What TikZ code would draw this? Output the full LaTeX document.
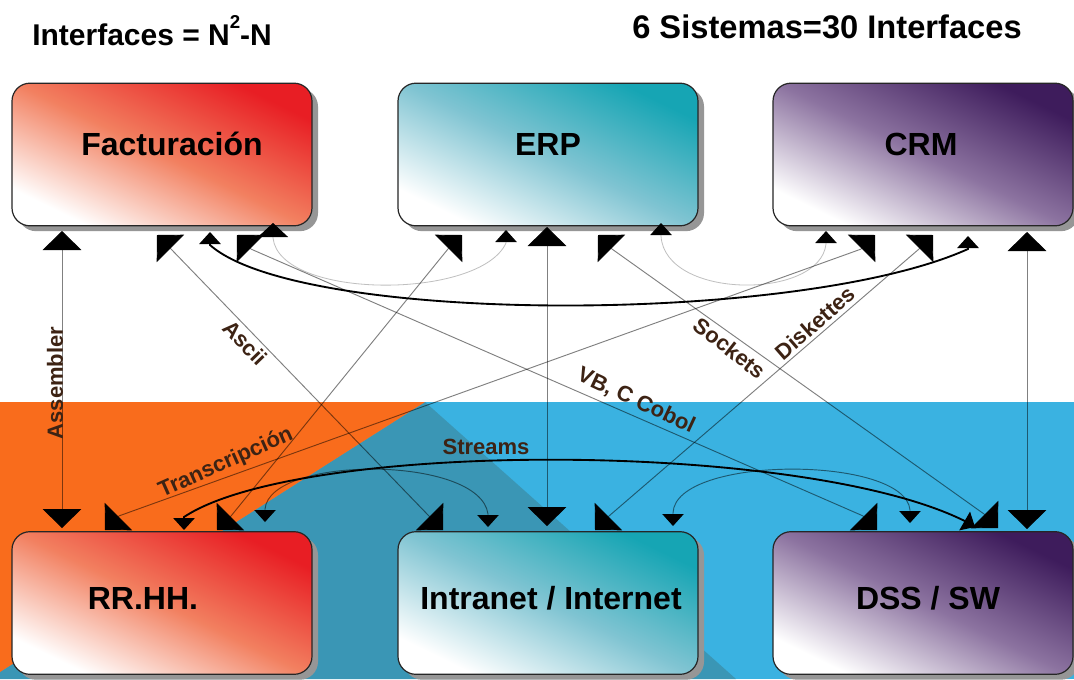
\documentclass[tikz,border=0pt]{standalone}
\usepackage{fontspec}
\setmainfont{Liberation Sans}
\usetikzlibrary{arrows.meta,shadows,calc}

\definecolor{bgorange}{RGB}{249,108,28}
\definecolor{bgblue}{RGB}{58,178,225}
\definecolor{bgdeep}{RGB}{58,150,181}
\definecolor{redtop}{RGB}{232,30,36}
\definecolor{redmid}{RGB}{242,128,96}
\definecolor{tealtop}{RGB}{22,165,180}
\definecolor{tealmid}{RGB}{128,196,210}
\definecolor{plumtop}{RGB}{62,28,92}
\definecolor{plummid}{RGB}{140,115,160}
\definecolor{labelbrown}{RGB}{61,35,20}
\definecolor{shadowgray}{RGB}{150,150,150}

\tikzset{
  BigHead/.tip={Triangle[length=14.25pt,width=29pt,color=black]},
  MidHead/.tip={Triangle[length=10.5pt,width=22.5pt,color=black]},
  SmallHead/.tip={Triangle[length=9pt,width=16pt,color=black]},
  sysbox/.style={draw=black!85, line width=0.9pt, rounded corners=13.5pt,
    minimum width=225pt, minimum height=107pt, inner sep=0pt,
    drop shadow={shadow xshift=4.5pt, shadow yshift=-4pt, fill=shadowgray, opacity=1}},
  redbox/.style={sysbox, bottom color=white, top color=redtop, middle color=redmid, shading angle=-26},
  tealbox/.style={sysbox, bottom color=white, top color=tealtop, middle color=tealmid, shading angle=-26},
  plumbox/.style={sysbox, bottom color=white, top color=plumtop, middle color=plummid, shading angle=-26},
  systext/.style={font=\fontsize{24}{28}\selectfont\bfseries, inner sep=0pt, anchor=base},
  headline/.style={font=\fontsize{22.5}{27}\selectfont\bfseries, inner sep=0pt, anchor=base west},
  headline2/.style={font=\fontsize{24.5}{29}\selectfont\bfseries, inner sep=0pt, anchor=base west},
  edgelabel/.style={font=\fontsize{16.5}{19}\selectfont\bfseries, text=labelbrown, inner sep=0pt},
  conn/.style={draw=black!50, line width=0.7pt},
  softconn/.style={draw=black!25, line width=0.6pt},
  thickconn/.style={draw=black, line width=1.4pt},
}

\begin{document}
\begin{tikzpicture}[x=0.75pt,y=-0.75pt]
\useasboundingbox (0,0) rectangle (1074,679);
\clip (0,0) rectangle (1074,679);

% background bands
\fill[white] (0,0) rectangle (1074,679);
\fill[bgblue] (0,402) rectangle (1074,679);
\fill[bgdeep] (425,402) -- (736,679) -- (0,679) -- (0,672) -- cycle;
\fill[bgorange] (0,402) -- (425,402) -- (0,672) -- cycle;

% headings
\node[headline] (formula) at (32,45) {Interfaces = N\raisebox{0.55em}{\fontsize{14}{14}\selectfont 2}-N};
\node[headline2] (count) at (632,38) {6 Sistemas=30 Interfaces};

% systems
\node[redbox]  (fact)  at (162,154.5) {};
\node[tealbox] (erp)   at (548,154.5) {};
\node[plumbox] (crm)   at (923,154.5) {};
\node[redbox]  (rrhh)  at (162,603) {};
\node[tealbox] (intra) at (548,603) {};
\node[plumbox] (dss)   at (923,603) {};

\node[systext] (fact-t)  at (172,155) {Facturación};
\node[systext] (erp-t)   at (548,155) {ERP};
\node[systext] (crm-t)   at (921,155) {CRM};
\node[systext] (rrhh-t)  at (143,609) {RR.HH.};
\node[systext] (intra-t) at (551,609) {Intranet / Internet};
\node[systext] (dss-t)   at (928,609) {DSS / SW};

% ports along the box edges
\coordinate (fAsm) at (62,231);
\coordinate (fAsc) at (157,235);
\coordinate (fCrm) at (210,232);
\coordinate (fVb)  at (237,235);
\coordinate (fErp) at (273,223);
\coordinate (eRh)  at (462,235);
\coordinate (eF)   at (506,230);
\coordinate (eIn)  at (547,227);
\coordinate (eDs)  at (598,235);
\coordinate (eCrm) at (661,223);
\coordinate (cErp) at (826,231);
\coordinate (cRh)  at (875,235);
\coordinate (cIn)  at (933,235);
\coordinate (cF)   at (968,236);
\coordinate (cDs)  at (1027,232);
\coordinate (rAsm) at (62,528);
\coordinate (rCrm) at (105,530);
\coordinate (rDs)  at (184,530);
\coordinate (rErp) at (217,530);
\coordinate (rIn)  at (265,522);
\coordinate (iF)   at (443,530);
\coordinate (iRh)  at (488,527);
\coordinate (iErp) at (547,526);
\coordinate (iCrm) at (595,530);
\coordinate (iDs)  at (673,526);
\coordinate (dF)   at (877,530);
\coordinate (dIn)  at (910,523);
\coordinate (dRh)  at (975,527);
\coordinate (dErp) at (998,528);
\coordinate (dCrm) at (1027,529);

% interfaces
\begin{scope}[blend mode=multiply]
  \draw[conn,{BigHead}-{BigHead}] (fAsm) -- (rAsm);
  \draw[conn,{BigHead}-{BigHead}] (fAsc) -- ++(45:20) -- ($(iF)+(-135:20)$) -- (iF);
  \draw[conn,{BigHead}-{BigHead}] (fVb) -- ++(45:20) -- ($(dF)+(-135:20)$) -- (dF);
  \draw[conn,{BigHead}-{BigHead}] (eRh) -- ++(135:20) -- ($(rErp)+(-45:20)$) -- (rErp);
  \draw[conn,{BigHead}-{BigHead}] (eIn) -- (iErp);
  \draw[conn,{BigHead}-{BigHead}] (eDs) -- ++(45:20) -- ($(dErp)+(-135:20)$) -- (dErp);
  \draw[conn,{BigHead}-{BigHead}] (cRh) -- ++(135:20) -- ($(rCrm)+(-45:20)$) -- (rCrm);
  \draw[conn,{BigHead}-{BigHead}] (cIn) -- ++(135:20) -- ($(iCrm)+(-45:20)$) -- (iCrm);
  \draw[conn,{BigHead}-{BigHead}] (cDs) -- (dCrm);

  \draw[softconn,{MidHead}-{SmallHead}] (fErp) -- ++(90:15)
    .. controls (280,300) and (480,300) .. ($(eF)+(90:13)$) -- (eF);
  \draw[softconn,{SmallHead}-{SmallHead}] (eCrm) -- ++(90:13)
    .. controls (665,300) and (820,300) .. ($(cErp)+(90:13)$) -- (cErp);
  \draw[conn,{SmallHead}-{SmallHead}] (rIn) -- ++(-90:13)
    .. controls (270,455) and (480,455) .. ($(iRh)+(-90:13)$) -- (iRh);
  \draw[conn,{SmallHead}-{SmallHead}] (iDs) -- ++(-90:13)
    .. controls (675,455) and (905,455) .. ($(dIn)+(-90:13)$) -- (dIn);

  \draw[thickconn,{SmallHead}-{SmallHead}] (fCrm) -- ++(90:13)
    .. controls (300,325) and (800,325) .. ($(cF)+(90:13)$) -- (cF);
  \draw[thickconn,{SmallHead}-{SmallHead}] (rDs) -- ++(-90:13)
    .. controls (300,440) and (800,440) .. ($(dRh)+(-150:13)$) -- (dRh);
\end{scope}

% interface labels
\node[edgelabel, rotate=90]  (l-asm) at (55,383) {Assembler};
\node[edgelabel, rotate=-46] (l-asc) at (245,343) {Ascii};
\node[edgelabel, rotate=24]  (l-tr)  at (226,463) {Transcripción};
\node[edgelabel]             (l-st)  at (486,447) {Streams};
\node[edgelabel, rotate=-25] (l-vb)  at (636,401) {VB, C Cobol};
\node[edgelabel, rotate=-38] (l-so)  at (730,348) {Sockets};
\node[edgelabel, rotate=41]  (l-di)  at (815,323) {Diskettes};
\end{tikzpicture}
\end{document}
